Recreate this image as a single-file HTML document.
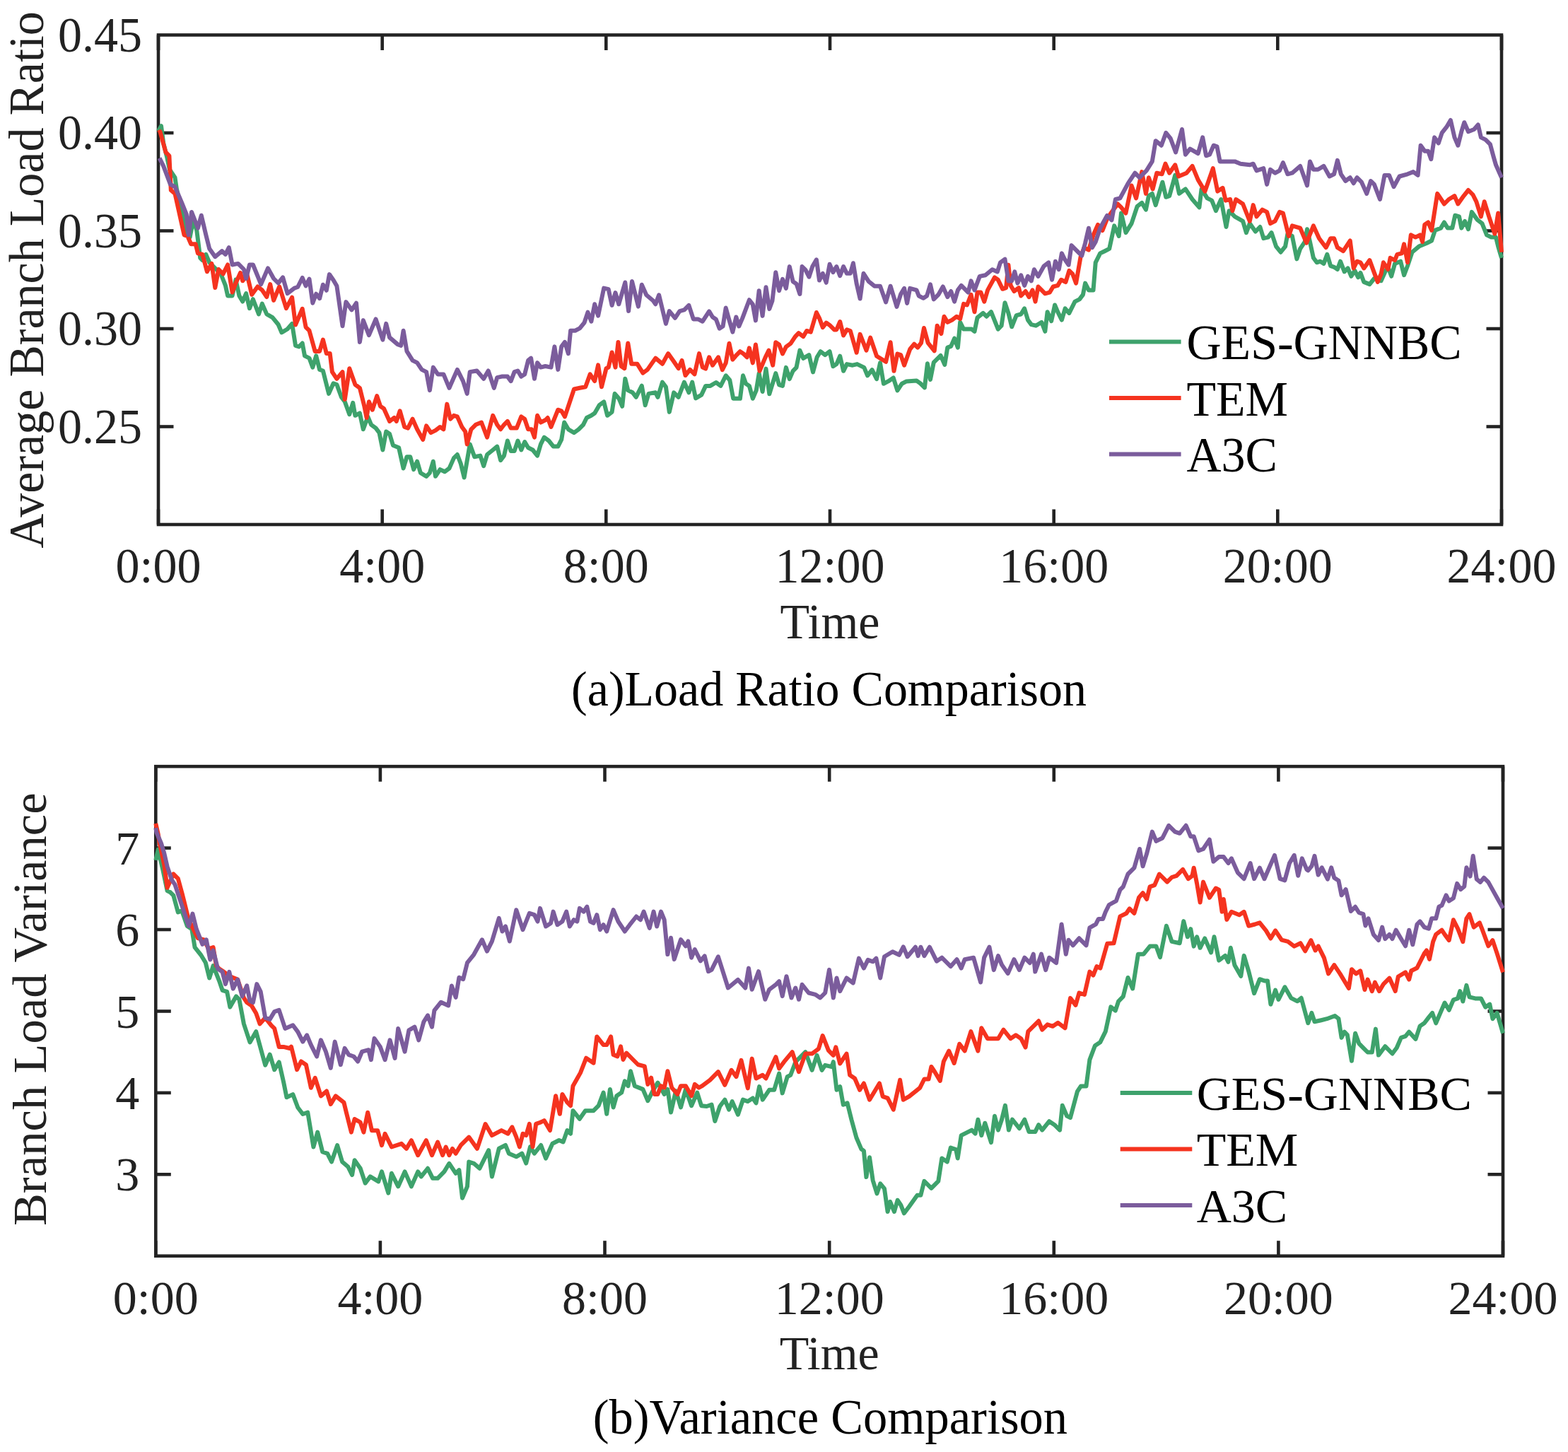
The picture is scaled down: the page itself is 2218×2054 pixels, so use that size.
<!DOCTYPE html>
<html><head><meta charset="utf-8"><title>Load Ratio and Variance Comparison</title>
<style>html,body{margin:0;padding:0;background:#fff}body{width:2218px;height:2054px;overflow:hidden}svg{display:block}
text{font-family:'Liberation Serif','Times New Roman',serif;font-size:68px;fill:#222222}</style></head>
<body><svg width="2218" height="2054" viewBox="0 0 2218 2054">
<rect width="2218" height="2054" fill="#fff"/>
<rect x="224.0" y="49.5" width="1900.0" height="692.5" fill="none" stroke="#232323" stroke-width="4.6"/>
<line x1="224.0" y1="742.0" x2="224.0" y2="720.5" stroke="#232323" stroke-width="4.6"/>
<line x1="224.0" y1="49.5" x2="224.0" y2="71.0" stroke="#232323" stroke-width="4.6"/>
<line x1="540.7" y1="742.0" x2="540.7" y2="720.5" stroke="#232323" stroke-width="4.6"/>
<line x1="540.7" y1="49.5" x2="540.7" y2="71.0" stroke="#232323" stroke-width="4.6"/>
<line x1="857.3" y1="742.0" x2="857.3" y2="720.5" stroke="#232323" stroke-width="4.6"/>
<line x1="857.3" y1="49.5" x2="857.3" y2="71.0" stroke="#232323" stroke-width="4.6"/>
<line x1="1174.0" y1="742.0" x2="1174.0" y2="720.5" stroke="#232323" stroke-width="4.6"/>
<line x1="1174.0" y1="49.5" x2="1174.0" y2="71.0" stroke="#232323" stroke-width="4.6"/>
<line x1="1490.7" y1="742.0" x2="1490.7" y2="720.5" stroke="#232323" stroke-width="4.6"/>
<line x1="1490.7" y1="49.5" x2="1490.7" y2="71.0" stroke="#232323" stroke-width="4.6"/>
<line x1="1807.3" y1="742.0" x2="1807.3" y2="720.5" stroke="#232323" stroke-width="4.6"/>
<line x1="1807.3" y1="49.5" x2="1807.3" y2="71.0" stroke="#232323" stroke-width="4.6"/>
<line x1="2124.0" y1="742.0" x2="2124.0" y2="720.5" stroke="#232323" stroke-width="4.6"/>
<line x1="2124.0" y1="49.5" x2="2124.0" y2="71.0" stroke="#232323" stroke-width="4.6"/>
<line x1="224.0" y1="188.0" x2="245.5" y2="188.0" stroke="#232323" stroke-width="4.6"/>
<line x1="2124.0" y1="188.0" x2="2102.5" y2="188.0" stroke="#232323" stroke-width="4.6"/>
<line x1="224.0" y1="326.5" x2="245.5" y2="326.5" stroke="#232323" stroke-width="4.6"/>
<line x1="2124.0" y1="326.5" x2="2102.5" y2="326.5" stroke="#232323" stroke-width="4.6"/>
<line x1="224.0" y1="465.0" x2="245.5" y2="465.0" stroke="#232323" stroke-width="4.6"/>
<line x1="2124.0" y1="465.0" x2="2102.5" y2="465.0" stroke="#232323" stroke-width="4.6"/>
<line x1="224.0" y1="603.5" x2="245.5" y2="603.5" stroke="#232323" stroke-width="4.6"/>
<line x1="2124.0" y1="603.5" x2="2102.5" y2="603.5" stroke="#232323" stroke-width="4.6"/>
<path d="M224.0 185.4 L228.0 178.1 L231.2 202.5 L236.1 221.9 L240.0 240.0 L247.5 251.2 L249.9 267.4 L257.2 299.9 L263.7 332.3 L268.6 335.6 L273.4 311.2 L278.3 325.8 L283.2 364.8 L286.4 368.1 L291.3 359.9 L296.2 371.3 L312.4 387.5 L318.9 403.8 L322.1 418.4 L328.6 418.4 L333.5 395.6 L338.4 418.4 L343.2 426.5 L348.1 415.1 L353.0 436.2 L357.9 423.2 L366.0 444.4 L370.8 429.7 L377.3 444.4 L385.5 449.2 L393.6 459.0 L398.4 470.3 L406.6 465.5 L413.1 457.9 L418.0 488.8 L422.9 490.4 L427.7 485.5 L431.0 503.4 L437.5 506.6 L442.3 519.6 L447.2 503.4 L452.1 522.9 L456.9 524.5 L465.1 556.9 L471.6 542.3 L476.4 544.0 L482.9 561.8 L487.8 568.3 L494.3 586.2 L499.2 569.9 L502.4 587.8 L508.9 584.5 L513.8 607.3 L520.3 589.4 L525.1 600.8 L531.6 605.6 L536.5 612.1 L541.4 636.5 L546.2 610.5 L551.1 613.8 L556.0 630.0 L564.1 633.2 L570.6 662.5 L575.5 646.2 L580.3 646.2 L585.2 664.1 L590.1 652.7 L594.9 669.0 L603.1 673.8 L607.9 669.0 L612.8 652.7 L616.0 673.8 L622.5 664.1 L629.0 667.3 L635.5 662.5 L642.0 647.9 L646.9 643.0 L651.8 656.0 L656.6 675.5 L664.7 628.4 L671.2 646.2 L679.4 644.6 L684.2 659.2 L689.1 643.0 L697.2 636.5 L703.2 631.6 L708.1 651.1 L713.0 644.6 L717.9 623.5 L722.7 638.1 L727.6 638.1 L732.5 623.5 L737.3 636.5 L742.2 625.1 L747.1 633.2 L753.6 636.5 L760.1 644.6 L764.9 628.4 L769.8 618.6 L776.3 623.5 L782.8 631.6 L789.3 631.6 L794.2 621.9 L798.2 597.5 L803.9 607.3 L812.0 612.1 L818.5 607.3 L825.0 600.8 L829.9 591.0 L836.4 587.8 L841.2 584.5 L847.7 573.2 L854.2 568.3 L859.1 587.8 L865.6 582.9 L869.6 556.9 L875.3 563.4 L880.2 574.8 L884.3 535.8 L888.3 552.1 L894.8 555.3 L899.7 561.8 L907.8 545.6 L912.7 573.2 L917.5 556.9 L927.3 555.3 L930.5 561.8 L937.0 540.7 L941.9 547.2 L946.8 582.9 L953.2 555.3 L959.7 561.8 L967.9 540.7 L974.4 555.3 L979.2 540.7 L984.1 563.4 L992.2 558.6 L998.2 545.9 L1004.7 545.9 L1012.9 541.0 L1019.4 545.9 L1026.7 531.3 L1032.3 537.8 L1037.2 563.8 L1046.9 563.8 L1051.0 531.3 L1055.1 542.7 L1059.9 545.9 L1064.8 563.8 L1069.7 552.4 L1073.7 528.1 L1078.6 554.0 L1083.5 521.6 L1088.3 557.3 L1097.3 528.1 L1102.1 544.3 L1107.0 545.9 L1111.9 519.9 L1116.8 536.2 L1121.6 524.8 L1126.5 519.9 L1131.4 495.6 L1136.2 506.9 L1144.4 502.1 L1150.0 526.4 L1155.7 505.3 L1160.6 497.2 L1167.1 502.1 L1173.6 497.2 L1178.4 518.3 L1183.3 515.1 L1188.2 503.7 L1193.1 524.8 L1197.9 515.1 L1206.0 516.7 L1212.5 515.1 L1222.3 519.9 L1227.1 531.3 L1233.6 523.2 L1240.1 536.2 L1245.0 513.4 L1249.9 542.7 L1256.4 539.4 L1263.7 534.5 L1269.4 552.4 L1275.8 542.7 L1282.3 539.4 L1296.5 538.6 L1301.4 541.9 L1307.9 548.4 L1311.9 514.3 L1316.0 537.0 L1320.8 512.7 L1330.6 502.9 L1336.3 515.9 L1340.3 491.6 L1345.2 489.9 L1350.1 478.6 L1354.9 491.6 L1358.2 455.8 L1363.1 465.6 L1374.4 465.6 L1378.5 468.8 L1382.5 449.4 L1390.6 442.9 L1395.5 447.7 L1402.0 441.2 L1411.8 465.6 L1416.6 460.7 L1421.5 428.2 L1426.4 442.9 L1431.2 462.3 L1437.7 446.1 L1444.2 444.5 L1449.1 436.4 L1454.0 452.6 L1458.8 459.1 L1465.3 460.7 L1473.4 455.8 L1478.3 468.8 L1481.6 441.2 L1487.2 454.2 L1492.1 431.5 L1496.2 441.2 L1501.9 452.6 L1506.7 436.4 L1512.4 442.9 L1520.5 426.6 L1527.0 423.4 L1531.9 416.9 L1535.1 400.6 L1540.0 410.4 L1546.5 410.4 L1549.7 371.4 L1556.2 358.4 L1562.7 355.2 L1569.2 351.9 L1576.2 319.4 L1582.7 334.0 L1586.0 301.5 L1592.5 329.1 L1600.6 316.1 L1608.7 291.8 L1615.2 286.9 L1620.9 296.6 L1624.9 277.1 L1629.8 273.9 L1634.7 290.1 L1644.4 257.7 L1649.3 278.8 L1654.2 277.1 L1662.3 247.9 L1668.0 273.9 L1676.9 267.4 L1686.6 282.0 L1696.4 293.4 L1699.6 267.4 L1707.7 280.4 L1714.2 283.6 L1719.9 298.2 L1727.2 282.0 L1734.5 321.0 L1738.6 298.2 L1746.7 306.4 L1758.1 312.9 L1762.9 329.1 L1767.8 316.1 L1775.9 327.5 L1782.4 321.0 L1787.3 337.2 L1793.8 335.6 L1798.6 329.1 L1805.1 348.6 L1811.6 356.7 L1818.1 348.6 L1821.4 330.7 L1827.9 334.0 L1834.4 366.4 L1839.2 351.8 L1845.7 342.1 L1849.0 324.2 L1853.0 342.1 L1857.9 364.8 L1862.7 371.3 L1867.6 369.7 L1872.5 372.9 L1877.3 359.9 L1882.2 376.2 L1887.1 377.8 L1891.9 381.0 L1896.0 369.7 L1901.7 384.3 L1906.6 379.4 L1911.4 390.8 L1916.3 382.7 L1921.2 392.4 L1924.4 385.9 L1929.3 398.9 L1937.4 402.1 L1943.9 394.0 L1953.6 397.3 L1960.1 382.7 L1963.4 377.8 L1968.2 390.8 L1973.1 372.9 L1981.2 369.7 L1986.1 389.2 L1991.0 376.2 L1997.5 356.7 L2007.2 348.6 L2018.6 343.7 L2025.1 340.5 L2029.9 325.8 L2038.1 322.6 L2042.9 314.5 L2047.8 322.6 L2054.3 322.6 L2058.3 304.7 L2064.0 306.4 L2067.3 322.6 L2072.1 312.9 L2077.0 324.2 L2081.9 299.9 L2090.0 311.2 L2096.5 316.1 L2103.0 332.3 L2109.5 335.6 L2116.0 335.6 L2119.2 348.6 L2124.0 364.8" fill="none" stroke="#3ea26c" stroke-width="6.0" stroke-linejoin="round"/>
<path d="M224.0 187.9 L226.4 186.2 L234.5 215.5 L239.4 220.3 L241.8 269.0 L247.5 273.9 L260.5 332.3 L265.3 334.0 L270.2 345.3 L276.7 345.3 L279.9 358.3 L286.4 359.9 L292.9 384.3 L299.4 372.9 L304.3 407.0 L309.2 381.0 L315.6 387.5 L322.1 374.5 L328.6 413.5 L333.5 400.5 L340.0 385.9 L343.2 397.3 L349.7 389.2 L356.2 416.8 L364.4 405.4 L370.8 410.3 L377.3 420.0 L382.2 402.1 L387.1 424.9 L395.2 405.4 L404.9 436.2 L413.1 420.6 L418.0 459.5 L427.7 436.8 L432.6 462.8 L437.5 467.7 L445.6 496.9 L452.1 496.9 L456.9 480.6 L461.8 500.1 L466.7 500.1 L469.9 526.1 L476.4 535.8 L484.5 526.1 L487.8 565.1 L494.3 521.2 L502.4 544.0 L508.9 548.8 L515.4 574.8 L518.6 591.0 L521.9 568.3 L526.8 579.7 L533.2 560.2 L538.1 574.8 L543.0 578.1 L551.1 595.9 L557.6 591.0 L560.8 595.9 L565.7 581.3 L572.2 604.0 L577.1 605.6 L583.6 592.7 L590.1 607.3 L598.2 621.9 L603.1 602.4 L609.5 612.1 L616.0 608.9 L622.5 604.0 L627.4 607.3 L632.3 571.6 L637.1 592.7 L642.0 587.8 L646.9 589.4 L653.4 604.0 L658.2 610.5 L660.7 628.4 L666.4 607.3 L672.9 600.8 L681.0 597.5 L689.1 618.6 L697.2 587.8 L703.2 600.8 L708.1 607.3 L713.0 600.8 L717.9 595.9 L722.7 605.6 L730.8 605.6 L737.3 589.4 L742.2 592.7 L747.1 607.3 L751.9 607.3 L756.0 618.6 L760.1 587.8 L764.9 597.5 L771.4 594.3 L774.7 591.0 L779.5 604.0 L789.3 579.7 L794.2 581.3 L799.0 589.4 L803.9 574.8 L812.0 550.5 L820.1 548.8 L828.2 547.2 L834.7 529.4 L841.2 539.1 L846.1 516.4 L851.0 547.2 L857.5 521.2 L860.7 519.6 L865.6 498.5 L870.5 519.6 L874.5 483.9 L878.6 518.0 L883.4 521.2 L888.3 485.5 L893.2 514.7 L901.3 514.7 L909.4 527.7 L915.9 522.9 L927.3 506.6 L937.0 514.7 L945.1 500.1 L953.2 511.5 L959.7 521.2 L964.6 509.9 L969.5 531.0 L976.0 522.9 L982.5 529.4 L989.0 500.1 L993.8 519.6 L998.2 521.6 L1003.1 505.3 L1008.0 516.7 L1016.1 505.3 L1021.8 523.2 L1026.7 513.4 L1031.5 485.8 L1036.4 508.6 L1040.5 503.7 L1046.9 497.2 L1051.8 500.5 L1056.7 505.3 L1059.9 492.3 L1064.8 513.4 L1068.9 487.5 L1074.5 524.8 L1082.7 505.3 L1087.5 495.6 L1093.2 516.7 L1097.3 484.2 L1102.1 487.5 L1107.0 500.5 L1111.9 490.7 L1118.4 485.8 L1124.9 476.1 L1129.7 471.2 L1136.2 476.1 L1141.1 468.0 L1146.8 469.6 L1154.9 442.0 L1159.0 450.1 L1163.8 463.1 L1168.7 456.6 L1173.6 459.9 L1180.1 466.4 L1183.3 466.4 L1188.2 455.0 L1193.1 474.5 L1197.9 466.4 L1202.8 468.0 L1211.7 498.8 L1216.6 472.9 L1225.5 495.6 L1231.2 477.7 L1240.1 503.7 L1253.1 511.8 L1259.6 484.2 L1264.5 524.8 L1269.4 500.5 L1274.2 502.1 L1279.1 516.7 L1287.2 494.0 L1293.2 486.7 L1298.1 491.6 L1303.0 485.1 L1307.0 464.0 L1312.7 485.1 L1321.7 496.4 L1325.7 460.7 L1331.4 472.1 L1335.5 447.7 L1340.3 455.8 L1346.8 452.6 L1353.3 447.7 L1358.2 451.0 L1363.1 429.9 L1367.9 431.5 L1373.6 416.9 L1378.5 441.2 L1382.5 413.6 L1387.4 413.6 L1392.3 426.6 L1397.1 410.4 L1406.9 392.5 L1411.8 395.8 L1418.2 408.8 L1423.1 407.1 L1426.4 374.7 L1429.6 403.9 L1434.5 412.0 L1441.0 407.1 L1444.2 418.5 L1450.7 412.0 L1455.6 420.1 L1460.5 410.4 L1464.5 426.6 L1468.6 405.5 L1473.4 410.4 L1478.3 415.3 L1484.8 413.6 L1489.7 405.5 L1496.2 403.9 L1501.0 395.8 L1507.5 399.0 L1512.4 382.8 L1517.3 387.7 L1522.1 400.6 L1528.6 363.3 L1533.5 350.3 L1540.0 353.6 L1546.5 332.5 L1553.0 317.9 L1559.5 326.0 L1566.0 309.7 L1572.5 300.0 L1581.1 288.5 L1586.0 293.4 L1592.5 301.5 L1600.6 262.5 L1607.1 280.4 L1615.2 243.1 L1620.9 273.9 L1624.9 251.2 L1630.6 267.4 L1636.3 244.7 L1643.6 246.3 L1648.5 231.7 L1654.2 244.7 L1662.3 233.3 L1667.1 249.5 L1678.5 244.7 L1686.6 234.9 L1694.7 254.4 L1704.5 270.6 L1715.8 238.2 L1722.3 270.6 L1729.6 265.8 L1733.7 283.6 L1740.2 282.0 L1743.4 298.2 L1748.3 282.0 L1758.1 288.5 L1767.8 312.9 L1772.7 290.1 L1777.5 306.4 L1785.6 296.6 L1792.1 299.9 L1797.0 316.1 L1803.5 312.9 L1810.0 299.9 L1814.9 301.5 L1823.0 334.0 L1827.9 319.4 L1839.2 322.6 L1848.1 343.7 L1857.9 319.4 L1866.0 337.2 L1875.7 350.2 L1882.2 337.2 L1887.1 337.2 L1891.9 350.2 L1900.1 355.1 L1909.8 340.5 L1914.7 379.4 L1919.5 369.7 L1924.4 371.3 L1929.3 379.4 L1937.4 368.1 L1943.9 385.9 L1948.8 398.9 L1953.6 387.5 L1956.9 371.3 L1963.4 381.0 L1966.6 364.8 L1973.1 368.1 L1976.4 359.9 L1982.9 358.3 L1986.1 345.3 L1991.0 371.3 L1995.8 332.3 L2002.3 335.6 L2008.8 332.3 L2012.1 342.1 L2015.3 317.7 L2020.2 314.5 L2025.1 325.8 L2033.2 273.9 L2042.9 288.5 L2049.4 282.0 L2057.5 277.1 L2062.4 288.5 L2070.5 277.1 L2077.0 269.0 L2083.5 275.5 L2088.4 285.3 L2094.9 306.4 L2099.7 285.3 L2106.2 306.4 L2114.4 330.7 L2119.2 301.5 L2124.0 356.7" fill="none" stroke="#f5331f" stroke-width="6.0" stroke-linejoin="round"/>
<path d="M225.6 223.6 L231.2 234.9 L241.0 260.9 L247.5 264.2 L257.2 286.9 L263.7 303.1 L266.9 332.3 L271.0 299.9 L279.9 322.6 L284.8 304.7 L291.3 332.3 L296.2 351.8 L304.3 363.2 L314.0 355.1 L318.9 359.9 L323.8 350.2 L328.6 374.5 L336.8 372.9 L344.9 381.0 L348.1 394.0 L353.0 374.5 L357.9 374.5 L369.2 402.1 L379.0 379.4 L387.1 394.0 L393.6 400.5 L400.1 392.4 L406.6 415.1 L416.4 407.6 L421.2 406.0 L427.7 393.0 L432.6 404.4 L437.5 394.6 L442.3 428.7 L447.2 415.7 L452.1 422.2 L456.9 402.7 L461.8 410.8 L465.9 388.1 L471.6 396.2 L476.4 404.4 L484.5 461.2 L489.4 427.1 L497.5 438.4 L504.0 428.7 L508.9 483.9 L513.8 453.1 L521.9 474.2 L531.6 451.4 L541.4 480.6 L546.2 457.9 L551.1 477.4 L562.5 487.1 L567.3 488.8 L570.6 467.7 L575.5 496.9 L583.6 509.9 L590.1 513.1 L596.6 522.9 L603.1 526.1 L607.9 552.1 L612.8 519.6 L619.3 529.4 L627.4 529.4 L635.5 548.8 L646.9 522.9 L655.0 539.1 L660.7 556.9 L664.7 526.1 L674.5 524.5 L684.2 535.8 L690.7 524.5 L698.8 548.8 L703.2 534.2 L709.7 532.6 L717.9 532.6 L722.7 539.1 L727.6 526.1 L732.5 524.5 L737.3 532.6 L742.2 529.4 L747.1 509.9 L751.1 506.6 L756.0 535.8 L760.1 513.1 L764.9 519.6 L771.4 518.0 L779.5 519.6 L784.4 490.4 L789.3 522.9 L794.2 490.4 L799.0 483.9 L803.9 500.1 L807.1 467.7 L813.6 467.7 L820.1 464.4 L826.6 456.3 L831.5 441.7 L836.4 454.7 L841.2 430.3 L846.1 446.6 L854.2 407.6 L860.7 409.2 L865.6 431.9 L870.5 414.1 L875.3 430.3 L884.3 399.5 L889.1 440.1 L894.0 397.9 L902.9 433.6 L907.8 402.7 L914.3 417.3 L924.0 425.5 L927.3 430.3 L932.1 417.3 L941.9 457.9 L946.8 440.1 L954.9 449.8 L961.4 440.1 L967.9 438.4 L974.4 431.9 L980.8 451.4 L987.3 451.4 L993.8 454.7 L1003.1 440.4 L1008.0 448.5 L1012.9 451.8 L1017.7 464.7 L1022.6 461.5 L1026.7 435.5 L1030.7 450.1 L1036.4 469.6 L1041.3 448.5 L1045.3 461.5 L1050.2 450.1 L1059.9 424.2 L1064.8 430.6 L1068.9 453.4 L1073.7 411.2 L1078.6 446.9 L1083.5 406.3 L1088.3 437.1 L1092.4 425.8 L1097.3 385.2 L1102.1 411.2 L1107.0 394.9 L1111.9 407.9 L1116.8 377.1 L1121.6 398.2 L1126.5 401.4 L1131.4 416.0 L1134.6 377.1 L1139.5 381.9 L1144.4 391.7 L1149.2 377.1 L1154.9 367.3 L1159.0 396.6 L1163.8 386.8 L1168.7 399.8 L1173.6 373.8 L1178.4 385.2 L1183.3 377.1 L1188.2 390.1 L1193.1 377.1 L1197.9 386.8 L1202.8 386.8 L1206.9 372.2 L1211.7 401.4 L1216.6 422.5 L1221.5 386.8 L1228.8 398.2 L1236.9 404.7 L1245.0 404.7 L1253.1 427.4 L1259.6 404.7 L1268.5 433.9 L1274.2 416.0 L1279.1 407.9 L1283.1 429.0 L1287.2 407.9 L1296.5 410.4 L1299.7 418.5 L1306.2 421.8 L1311.1 418.5 L1316.0 402.3 L1320.8 423.4 L1327.3 416.9 L1333.8 405.5 L1340.3 420.1 L1345.2 412.0 L1350.1 426.6 L1354.9 410.4 L1359.8 403.9 L1369.5 413.6 L1373.6 397.4 L1378.5 410.4 L1385.8 390.9 L1393.9 389.3 L1403.6 381.2 L1410.9 384.4 L1415.0 371.4 L1421.5 366.6 L1426.4 397.4 L1431.2 397.4 L1435.3 384.4 L1439.4 400.6 L1444.2 389.3 L1449.1 403.9 L1454.0 390.9 L1458.8 397.4 L1462.9 381.2 L1468.6 390.9 L1476.7 376.3 L1483.2 371.4 L1488.1 395.8 L1492.9 369.8 L1497.8 381.2 L1501.9 358.4 L1505.9 366.6 L1511.6 374.7 L1515.6 347.1 L1522.1 353.6 L1530.3 361.7 L1535.1 343.8 L1540.0 322.7 L1544.9 350.3 L1549.7 342.2 L1556.2 322.7 L1566.0 304.9 L1572.5 311.4 L1577.9 282.0 L1584.4 280.4 L1595.7 259.3 L1605.5 244.7 L1611.9 251.2 L1621.7 241.4 L1629.8 228.4 L1634.7 199.2 L1642.8 205.7 L1649.3 187.9 L1655.8 196.0 L1663.1 215.5 L1672.0 183.0 L1676.9 218.7 L1683.4 210.6 L1694.7 217.1 L1701.2 194.4 L1706.1 220.3 L1711.0 218.7 L1716.7 205.7 L1721.5 207.3 L1725.6 228.4 L1735.3 228.4 L1746.7 228.4 L1754.8 231.7 L1767.8 233.3 L1772.7 231.7 L1777.5 241.4 L1787.3 238.2 L1792.1 260.9 L1797.0 239.8 L1803.5 244.7 L1810.0 241.4 L1814.9 230.1 L1821.4 246.3 L1827.9 244.7 L1839.2 234.9 L1849.0 262.5 L1853.0 228.4 L1857.9 239.8 L1864.4 239.8 L1872.5 234.9 L1880.6 249.5 L1887.1 246.3 L1891.9 226.8 L1896.8 246.3 L1903.3 256.0 L1909.8 251.2 L1914.7 259.3 L1919.5 251.2 L1926.0 257.7 L1933.3 273.9 L1939.0 256.0 L1943.9 260.9 L1952.0 282.0 L1958.5 247.9 L1965.0 247.9 L1971.5 264.2 L1979.6 249.5 L1991.0 246.3 L1999.1 243.1 L2005.6 247.9 L2009.6 205.7 L2015.3 213.8 L2020.2 213.8 L2024.3 225.2 L2029.1 194.4 L2034.8 202.5 L2039.7 187.9 L2046.2 179.7 L2051.9 170.0 L2057.5 194.4 L2062.4 205.7 L2067.3 186.2 L2071.3 173.2 L2077.0 186.2 L2085.1 183.0 L2090.8 176.5 L2094.9 194.4 L2101.4 197.6 L2107.9 204.1 L2112.7 221.9 L2116.0 233.3 L2124.0 251.2" fill="none" stroke="#7b5c9c" stroke-width="6.0" stroke-linejoin="round"/>
<text transform="translate(201.0 49.5) scale(1 1.02)" text-anchor="end" dominant-baseline="central">0.45</text>
<text transform="translate(201.0 188.0) scale(1 1.02)" text-anchor="end" dominant-baseline="central">0.40</text>
<text transform="translate(201.0 326.5) scale(1 1.02)" text-anchor="end" dominant-baseline="central">0.35</text>
<text transform="translate(201.0 465.0) scale(1 1.02)" text-anchor="end" dominant-baseline="central">0.30</text>
<text transform="translate(201.0 603.5) scale(1 1.02)" text-anchor="end" dominant-baseline="central">0.25</text>
<text transform="translate(224.0 824.0) scale(1 1.02)" text-anchor="middle">0:00</text>
<text transform="translate(540.7 824.0) scale(1 1.02)" text-anchor="middle">4:00</text>
<text transform="translate(857.3 824.0) scale(1 1.02)" text-anchor="middle">8:00</text>
<text transform="translate(1174.0 824.0) scale(1 1.02)" text-anchor="middle">12:00</text>
<text transform="translate(1490.7 824.0) scale(1 1.02)" text-anchor="middle">16:00</text>
<text transform="translate(1807.3 824.0) scale(1 1.02)" text-anchor="middle">20:00</text>
<text transform="translate(2124.0 824.0) scale(1 1.02)" text-anchor="middle">24:00</text>
<text transform="translate(1174.0 902.8) scale(1 1.02)" text-anchor="middle">Time</text>
<text transform="translate(1172.5 997.8) scale(1 1.02)" text-anchor="middle" style="font-size:68px;fill:#000">(a)Load Ratio Comparison</text>
<text transform="translate(61.0 396.0) rotate(-90) scale(1 1.02)" text-anchor="middle" style="font-size:68px">Average Branch Load Ratio</text>
<line x1="1569.0" y1="483.5" x2="1670.6" y2="483.5" stroke="#3ea26c" stroke-width="6.0"/>
<text transform="translate(1678.5 508.3) scale(1 1.02)" style="fill:#000">GES-GNNBC</text>
<line x1="1569.0" y1="563.0" x2="1670.6" y2="563.0" stroke="#f5331f" stroke-width="6.0"/>
<text transform="translate(1678.5 587.8) scale(1 1.02)" style="fill:#000">TEM</text>
<line x1="1569.0" y1="642.5" x2="1670.6" y2="642.5" stroke="#7b5c9c" stroke-width="6.0"/>
<text transform="translate(1678.5 667.3) scale(1 1.02)" style="fill:#000">A3C</text>
<rect x="220.3" y="1084.2" width="1905.7" height="692.5" fill="none" stroke="#232323" stroke-width="4.6"/>
<line x1="220.3" y1="1776.7" x2="220.3" y2="1755.2" stroke="#232323" stroke-width="4.6"/>
<line x1="220.3" y1="1084.2" x2="220.3" y2="1105.7" stroke="#232323" stroke-width="4.6"/>
<line x1="537.9" y1="1776.7" x2="537.9" y2="1755.2" stroke="#232323" stroke-width="4.6"/>
<line x1="537.9" y1="1084.2" x2="537.9" y2="1105.7" stroke="#232323" stroke-width="4.6"/>
<line x1="855.5" y1="1776.7" x2="855.5" y2="1755.2" stroke="#232323" stroke-width="4.6"/>
<line x1="855.5" y1="1084.2" x2="855.5" y2="1105.7" stroke="#232323" stroke-width="4.6"/>
<line x1="1173.2" y1="1776.7" x2="1173.2" y2="1755.2" stroke="#232323" stroke-width="4.6"/>
<line x1="1173.2" y1="1084.2" x2="1173.2" y2="1105.7" stroke="#232323" stroke-width="4.6"/>
<line x1="1490.8" y1="1776.7" x2="1490.8" y2="1755.2" stroke="#232323" stroke-width="4.6"/>
<line x1="1490.8" y1="1084.2" x2="1490.8" y2="1105.7" stroke="#232323" stroke-width="4.6"/>
<line x1="1808.4" y1="1776.7" x2="1808.4" y2="1755.2" stroke="#232323" stroke-width="4.6"/>
<line x1="1808.4" y1="1084.2" x2="1808.4" y2="1105.7" stroke="#232323" stroke-width="4.6"/>
<line x1="2126.0" y1="1776.7" x2="2126.0" y2="1755.2" stroke="#232323" stroke-width="4.6"/>
<line x1="2126.0" y1="1084.2" x2="2126.0" y2="1105.7" stroke="#232323" stroke-width="4.6"/>
<line x1="220.3" y1="1199.6" x2="241.8" y2="1199.6" stroke="#232323" stroke-width="4.6"/>
<line x1="2126.0" y1="1199.6" x2="2104.5" y2="1199.6" stroke="#232323" stroke-width="4.6"/>
<line x1="220.3" y1="1315.0" x2="241.8" y2="1315.0" stroke="#232323" stroke-width="4.6"/>
<line x1="2126.0" y1="1315.0" x2="2104.5" y2="1315.0" stroke="#232323" stroke-width="4.6"/>
<line x1="220.3" y1="1430.5" x2="241.8" y2="1430.5" stroke="#232323" stroke-width="4.6"/>
<line x1="2126.0" y1="1430.5" x2="2104.5" y2="1430.5" stroke="#232323" stroke-width="4.6"/>
<line x1="220.3" y1="1545.9" x2="241.8" y2="1545.9" stroke="#232323" stroke-width="4.6"/>
<line x1="2126.0" y1="1545.9" x2="2104.5" y2="1545.9" stroke="#232323" stroke-width="4.6"/>
<line x1="220.3" y1="1661.3" x2="241.8" y2="1661.3" stroke="#232323" stroke-width="4.6"/>
<line x1="2126.0" y1="1661.3" x2="2104.5" y2="1661.3" stroke="#232323" stroke-width="4.6"/>
<path d="M220.3 1216.8 L223.7 1201.6 L230.2 1229.8 L236.6 1260.1 L241.0 1262.3 L245.3 1266.6 L251.8 1290.4 L257.2 1288.2 L264.8 1309.9 L271.3 1314.2 L275.6 1340.2 L284.3 1351.0 L290.8 1361.8 L296.2 1383.5 L301.6 1366.1 L310.2 1387.8 L314.6 1400.8 L321.1 1402.9 L325.4 1424.6 L334.0 1409.4 L338.4 1413.8 L344.9 1448.4 L353.5 1474.4 L362.2 1459.2 L368.7 1483.0 L375.2 1506.8 L381.7 1491.7 L388.2 1513.3 L394.7 1502.5 L401.1 1530.6 L405.5 1552.3 L414.3 1548.1 L421.3 1566.7 L428.3 1576.0 L435.3 1573.7 L443.4 1622.5 L449.2 1601.6 L456.2 1629.5 L463.2 1631.8 L469.0 1643.5 L477.1 1620.2 L484.1 1643.5 L492.3 1650.5 L498.1 1662.1 L501.6 1641.2 L509.7 1652.8 L516.7 1673.7 L523.7 1664.4 L535.3 1671.4 L540.0 1657.4 L549.3 1687.7 L553.9 1659.8 L563.2 1678.4 L572.6 1657.4 L581.9 1678.4 L591.2 1657.4 L595.8 1664.4 L605.1 1652.8 L612.1 1666.8 L619.1 1666.8 L628.4 1657.4 L635.4 1645.8 L644.7 1659.8 L649.4 1655.1 L654.0 1694.7 L661.0 1678.4 L663.3 1643.5 L670.3 1645.8 L678.4 1652.8 L691.2 1627.2 L695.9 1664.4 L705.8 1624.7 L715.1 1620.0 L719.8 1631.7 L730.3 1636.3 L738.4 1631.7 L744.2 1645.6 L750.0 1622.4 L755.9 1631.7 L765.2 1620.0 L772.1 1638.6 L781.5 1617.7 L790.8 1613.0 L796.6 1615.4 L802.4 1599.1 L807.1 1603.7 L810.5 1571.2 L819.9 1582.8 L828.0 1571.2 L839.6 1571.2 L846.6 1564.2 L853.6 1545.6 L858.2 1575.8 L862.9 1540.9 L867.6 1566.5 L872.2 1550.2 L879.2 1545.6 L883.8 1529.3 L888.5 1536.2 L892.0 1515.3 L897.8 1536.2 L909.4 1540.9 L916.4 1557.2 L923.4 1543.2 L930.4 1531.6 L939.7 1547.9 L944.4 1540.9 L949.0 1573.5 L956.0 1543.2 L963.0 1566.5 L970.0 1540.9 L978.1 1564.2 L986.2 1545.6 L992.1 1564.2 L999.7 1565.0 L1006.6 1562.7 L1011.3 1586.0 L1018.3 1565.0 L1025.3 1555.7 L1031.1 1569.7 L1035.7 1558.1 L1043.9 1576.7 L1050.9 1555.7 L1057.8 1558.1 L1064.8 1553.4 L1069.5 1560.4 L1074.1 1537.1 L1078.8 1555.7 L1088.1 1541.8 L1095.1 1541.8 L1102.1 1518.5 L1106.7 1546.4 L1113.7 1523.2 L1118.3 1520.8 L1125.3 1502.2 L1139.3 1488.2 L1148.6 1513.8 L1155.6 1492.9 L1162.6 1513.8 L1167.2 1506.9 L1176.5 1509.2 L1178.8 1502.2 L1183.5 1541.8 L1188.2 1537.1 L1192.8 1562.7 L1198.6 1560.4 L1204.4 1583.7 L1211.4 1609.3 L1218.4 1625.6 L1221.9 1627.9 L1225.4 1665.1 L1230.0 1637.2 L1234.7 1669.8 L1240.5 1688.4 L1245.2 1674.4 L1251.0 1681.4 L1255.6 1714.0 L1259.1 1700.0 L1265.0 1714.0 L1269.6 1697.7 L1274.3 1704.7 L1278.9 1716.3 L1285.9 1707.0 L1297.5 1690.8 L1302.4 1690.8 L1307.4 1670.8 L1317.4 1680.8 L1327.3 1670.8 L1332.3 1638.5 L1339.8 1643.5 L1344.8 1623.5 L1352.2 1626.0 L1354.7 1638.5 L1359.7 1606.1 L1364.7 1603.6 L1374.6 1598.6 L1379.6 1603.6 L1383.4 1583.7 L1388.3 1606.1 L1393.3 1588.7 L1402.0 1616.1 L1407.0 1578.7 L1412.0 1598.6 L1417.0 1583.7 L1421.9 1563.8 L1426.9 1598.6 L1431.9 1583.7 L1441.9 1596.2 L1449.3 1583.7 L1455.5 1601.1 L1464.3 1601.1 L1469.2 1591.2 L1474.2 1598.6 L1484.2 1586.2 L1491.6 1591.2 L1499.1 1598.6 L1502.8 1563.8 L1509.1 1578.7 L1514.0 1581.2 L1524.0 1543.9 L1529.0 1536.4 L1536.5 1536.4 L1541.4 1499.1 L1548.9 1479.2 L1556.4 1474.2 L1563.8 1459.2 L1571.3 1424.4 L1577.8 1429.6 L1582.2 1416.3 L1588.8 1409.6 L1595.5 1383.0 L1602.2 1398.5 L1609.9 1349.7 L1617.7 1349.7 L1626.6 1338.6 L1635.4 1338.6 L1641.0 1354.1 L1649.9 1309.8 L1657.6 1331.9 L1668.7 1334.2 L1674.3 1303.1 L1679.8 1325.3 L1684.3 1314.2 L1688.7 1338.6 L1693.1 1325.3 L1697.6 1340.8 L1704.2 1327.5 L1713.1 1347.5 L1717.5 1325.3 L1724.2 1358.6 L1733.1 1351.9 L1737.5 1360.8 L1740.8 1340.8 L1746.4 1365.2 L1755.3 1380.8 L1759.7 1351.9 L1766.3 1374.1 L1774.1 1405.2 L1781.9 1385.2 L1788.5 1387.4 L1793.0 1387.4 L1797.4 1420.7 L1804.1 1400.7 L1808.5 1414.0 L1817.4 1396.3 L1826.3 1411.8 L1835.1 1416.3 L1840.7 1411.8 L1850.3 1447.3 L1855.4 1432.9 L1859.5 1445.3 L1868.8 1443.2 L1877.0 1441.2 L1888.3 1437.0 L1893.5 1441.2 L1897.6 1467.9 L1901.7 1459.7 L1905.8 1463.8 L1912.0 1500.8 L1917.1 1461.7 L1922.3 1476.1 L1928.4 1482.3 L1934.6 1488.5 L1940.8 1488.5 L1945.9 1455.6 L1950.0 1492.6 L1959.3 1480.2 L1969.5 1490.5 L1975.7 1482.3 L1981.9 1467.9 L1988.1 1465.8 L1993.2 1459.7 L2002.5 1469.9 L2008.6 1451.4 L2014.8 1447.3 L2021.0 1439.1 L2026.1 1432.9 L2031.2 1447.3 L2037.4 1432.9 L2043.6 1418.5 L2049.7 1428.8 L2055.9 1414.4 L2062.1 1412.4 L2065.2 1402.1 L2069.3 1416.5 L2074.4 1393.9 L2078.5 1410.3 L2086.8 1412.4 L2095.0 1412.4 L2101.2 1424.7 L2107.3 1420.6 L2111.4 1441.2 L2117.6 1432.9 L2126.0 1461.7" fill="none" stroke="#3ea26c" stroke-width="6.0" stroke-linejoin="round"/>
<path d="M220.3 1164.8 L223.7 1180.0 L225.8 1193.0 L232.3 1223.3 L236.6 1255.8 L245.3 1236.3 L251.8 1242.8 L258.3 1266.6 L266.9 1301.2 L273.4 1314.2 L279.9 1327.2 L288.6 1329.4 L295.1 1342.3 L301.6 1340.2 L305.9 1366.1 L310.2 1370.5 L316.7 1374.8 L325.4 1381.3 L336.2 1385.6 L344.9 1411.6 L349.2 1418.1 L355.7 1422.4 L362.2 1433.2 L367.6 1448.4 L375.2 1439.7 L383.8 1450.6 L388.2 1454.9 L394.7 1480.9 L401.1 1480.9 L409.8 1483.0 L412.0 1480.6 L420.1 1513.2 L425.9 1501.5 L432.9 1506.2 L439.9 1538.8 L445.7 1524.8 L453.9 1550.4 L462.0 1543.4 L467.8 1562.0 L474.8 1550.4 L486.5 1559.7 L489.9 1573.7 L496.9 1601.6 L501.6 1583.0 L509.7 1587.6 L514.4 1601.6 L520.2 1573.7 L526.0 1599.3 L534.2 1599.3 L540.0 1620.2 L544.6 1603.9 L553.9 1622.5 L567.9 1617.9 L574.9 1624.9 L581.9 1613.2 L591.2 1634.2 L602.8 1613.2 L611.0 1634.2 L619.1 1615.6 L626.1 1634.2 L630.7 1622.5 L635.4 1634.2 L640.0 1624.9 L644.7 1631.8 L651.7 1620.2 L663.3 1608.6 L675.0 1624.9 L686.6 1590.0 L695.9 1606.2 L709.3 1599.1 L718.6 1603.7 L724.4 1594.4 L730.3 1608.4 L734.9 1622.4 L739.6 1603.7 L744.2 1606.1 L748.9 1589.8 L753.5 1622.4 L758.2 1589.8 L765.2 1587.4 L769.8 1585.1 L778.0 1599.1 L786.1 1550.2 L791.9 1575.8 L795.4 1547.9 L802.4 1559.5 L807.1 1564.2 L810.5 1536.2 L821.0 1517.6 L829.2 1496.7 L839.6 1503.7 L844.3 1466.4 L853.6 1478.1 L858.2 1478.1 L864.1 1466.4 L867.6 1492.0 L873.4 1494.4 L878.0 1480.4 L881.5 1499.0 L886.2 1489.7 L895.5 1499.0 L902.5 1506.0 L911.8 1508.3 L916.4 1533.9 L921.1 1524.6 L925.7 1547.9 L930.4 1547.9 L935.0 1536.2 L939.7 1538.6 L944.4 1515.3 L950.2 1538.6 L958.3 1547.9 L963.0 1536.2 L970.0 1536.2 L978.1 1550.2 L982.8 1533.9 L988.6 1538.6 L993.2 1536.2 L1004.3 1527.8 L1015.9 1516.2 L1025.3 1534.8 L1034.6 1513.8 L1041.5 1523.2 L1048.5 1499.9 L1057.8 1539.4 L1063.7 1497.6 L1069.5 1525.5 L1078.8 1520.8 L1083.4 1525.5 L1097.4 1495.2 L1102.1 1511.5 L1109.0 1502.2 L1120.7 1488.2 L1130.0 1516.2 L1139.3 1490.6 L1148.6 1490.6 L1157.9 1483.6 L1163.7 1465.0 L1171.9 1485.9 L1178.8 1492.9 L1182.3 1481.3 L1188.2 1504.5 L1197.5 1490.6 L1202.1 1520.8 L1209.1 1525.5 L1216.1 1541.8 L1221.9 1532.5 L1230.0 1555.7 L1244.0 1532.5 L1248.7 1551.1 L1255.6 1553.4 L1263.8 1569.7 L1273.1 1527.8 L1277.8 1555.7 L1285.9 1551.1 L1295.0 1543.9 L1301.2 1538.9 L1307.4 1526.5 L1313.6 1526.5 L1317.4 1509.0 L1322.4 1516.5 L1329.8 1528.9 L1334.8 1501.6 L1342.3 1486.6 L1349.7 1504.0 L1357.2 1476.7 L1364.7 1486.6 L1373.4 1459.2 L1383.4 1486.6 L1388.3 1454.3 L1397.0 1469.2 L1404.5 1469.2 L1412.0 1469.2 L1419.4 1456.7 L1429.4 1469.2 L1436.9 1464.2 L1444.3 1469.2 L1450.6 1481.6 L1454.3 1459.2 L1469.2 1444.3 L1474.2 1456.7 L1481.7 1449.3 L1489.2 1451.8 L1496.6 1446.8 L1506.6 1454.3 L1514.0 1411.9 L1521.5 1421.9 L1526.5 1404.5 L1534.0 1407.0 L1541.4 1374.6 L1546.4 1379.6 L1551.4 1367.1 L1556.4 1369.6 L1566.3 1334.8 L1575.5 1334.2 L1584.4 1296.4 L1593.3 1292.0 L1597.7 1285.3 L1604.4 1292.0 L1611.0 1269.8 L1616.6 1263.2 L1622.1 1272.0 L1626.6 1254.3 L1633.2 1252.1 L1639.9 1236.5 L1651.0 1247.6 L1657.6 1241.0 L1664.3 1238.8 L1673.2 1229.9 L1680.9 1243.2 L1686.5 1238.8 L1688.7 1227.7 L1693.1 1249.8 L1697.6 1276.5 L1702.0 1247.6 L1710.9 1269.8 L1719.8 1256.5 L1724.2 1258.7 L1728.6 1289.8 L1730.8 1272.0 L1735.3 1300.9 L1741.9 1289.8 L1753.0 1294.2 L1759.7 1289.8 L1766.3 1309.8 L1775.2 1307.5 L1781.9 1305.3 L1790.8 1316.4 L1797.4 1327.5 L1804.1 1316.4 L1812.9 1329.7 L1821.8 1331.9 L1830.7 1338.6 L1839.6 1334.2 L1846.2 1345.3 L1854.4 1330.1 L1860.6 1344.5 L1864.7 1338.3 L1872.9 1354.8 L1879.1 1377.4 L1887.3 1365.1 L1895.5 1377.4 L1907.9 1398.0 L1912.0 1371.2 L1918.1 1377.4 L1924.3 1373.3 L1930.5 1400.0 L1934.6 1385.6 L1940.8 1402.1 L1944.9 1389.7 L1951.0 1402.1 L1957.2 1391.8 L1965.4 1383.6 L1973.7 1402.1 L1977.8 1381.5 L1988.1 1375.4 L1993.2 1385.6 L1996.3 1373.3 L2004.5 1369.2 L2014.8 1348.6 L2017.9 1344.5 L2022.0 1356.8 L2027.1 1332.2 L2031.2 1321.9 L2039.5 1315.7 L2043.6 1321.9 L2049.7 1330.1 L2055.9 1301.3 L2062.1 1313.7 L2069.3 1332.2 L2074.4 1299.3 L2078.5 1293.1 L2084.7 1311.6 L2092.9 1305.4 L2097.0 1315.7 L2105.3 1338.3 L2111.4 1330.1 L2117.6 1348.6 L2126.0 1375.4" fill="none" stroke="#f5331f" stroke-width="6.0" stroke-linejoin="round"/>
<path d="M220.3 1171.3 L221.5 1177.8 L228.0 1193.0 L232.3 1207.1 L236.6 1225.9 L243.1 1244.9 L247.5 1251.4 L258.3 1283.9 L266.9 1309.9 L272.4 1292.6 L277.8 1314.2 L286.4 1335.8 L291.8 1329.4 L297.3 1357.5 L301.6 1344.5 L308.1 1370.5 L314.6 1374.8 L318.9 1392.1 L324.3 1374.8 L329.7 1398.6 L336.2 1385.6 L342.7 1409.4 L349.2 1394.3 L353.5 1415.9 L357.9 1418.1 L363.3 1392.1 L368.7 1402.9 L375.2 1439.7 L381.7 1441.9 L388.2 1431.1 L394.7 1428.9 L403.3 1454.9 L414.3 1450.3 L421.3 1459.6 L428.3 1473.6 L434.1 1464.3 L439.9 1478.2 L448.1 1494.5 L453.9 1471.3 L460.9 1487.6 L467.8 1510.8 L473.7 1473.6 L481.8 1506.2 L487.6 1482.9 L493.4 1492.2 L500.4 1494.5 L506.2 1501.5 L512.1 1487.6 L521.4 1485.2 L524.9 1499.2 L529.5 1468.9 L537.7 1480.6 L544.6 1499.2 L551.6 1471.3 L558.6 1496.9 L563.2 1455.0 L572.6 1487.6 L578.4 1457.3 L586.5 1452.7 L592.3 1471.3 L599.3 1445.7 L605.1 1436.4 L611.0 1452.7 L614.4 1429.4 L623.8 1417.7 L634.2 1422.4 L638.9 1394.5 L644.7 1410.8 L649.4 1382.8 L655.2 1385.2 L661.0 1361.9 L670.3 1350.3 L681.9 1329.3 L688.9 1345.6 L695.9 1331.6 L705.8 1298.9 L710.5 1317.5 L715.1 1310.5 L720.9 1331.5 L730.3 1287.2 L739.6 1315.2 L748.9 1291.9 L755.9 1294.2 L760.5 1303.5 L764.0 1284.9 L772.1 1310.5 L779.1 1305.9 L782.6 1289.6 L788.4 1308.2 L795.4 1303.5 L801.2 1289.6 L805.9 1310.5 L811.7 1301.2 L816.4 1303.5 L819.9 1284.9 L825.7 1289.6 L830.3 1282.6 L835.0 1303.5 L839.6 1305.9 L844.3 1294.2 L848.9 1315.2 L853.6 1308.2 L858.2 1317.5 L867.6 1287.2 L874.5 1303.5 L883.8 1317.5 L890.8 1308.2 L900.1 1296.5 L906.0 1301.2 L910.6 1289.6 L918.8 1312.8 L924.6 1289.6 L929.2 1310.5 L935.0 1289.6 L939.7 1301.2 L944.4 1350.1 L949.0 1326.8 L953.7 1357.1 L963.0 1329.1 L970.0 1338.4 L973.4 1331.5 L978.1 1354.7 L982.8 1343.1 L990.9 1359.4 L996.7 1352.4 L1002.0 1374.2 L1006.6 1371.9 L1015.9 1353.3 L1029.9 1397.5 L1043.9 1385.9 L1054.3 1397.5 L1059.0 1369.6 L1063.7 1399.8 L1073.0 1374.2 L1082.3 1413.8 L1088.1 1399.8 L1097.4 1392.8 L1102.1 1388.2 L1106.7 1409.1 L1112.5 1381.2 L1119.5 1411.5 L1125.3 1397.5 L1130.0 1413.8 L1134.6 1392.8 L1143.9 1404.5 L1153.2 1406.8 L1160.2 1411.5 L1167.2 1404.5 L1173.0 1371.9 L1178.8 1411.5 L1183.5 1383.5 L1188.2 1402.1 L1197.5 1383.5 L1206.8 1390.5 L1214.9 1355.6 L1221.9 1369.6 L1227.7 1357.9 L1234.7 1360.3 L1239.4 1355.6 L1245.2 1383.5 L1251.0 1353.3 L1262.6 1346.3 L1271.9 1350.9 L1277.8 1339.3 L1283.6 1353.3 L1295.0 1339.7 L1298.7 1352.2 L1302.4 1339.7 L1307.4 1352.2 L1314.9 1339.7 L1324.9 1359.7 L1332.3 1354.7 L1344.8 1367.1 L1353.5 1357.2 L1359.7 1369.6 L1364.7 1357.2 L1377.1 1354.7 L1387.1 1389.5 L1392.1 1354.7 L1399.5 1339.7 L1405.8 1372.1 L1412.0 1352.2 L1417.0 1364.6 L1425.7 1377.1 L1434.4 1357.2 L1441.9 1372.1 L1449.3 1354.7 L1456.8 1362.2 L1461.8 1349.7 L1464.3 1374.6 L1473.0 1349.7 L1479.2 1372.1 L1484.2 1354.7 L1494.1 1362.2 L1501.6 1307.4 L1507.8 1349.7 L1511.6 1329.8 L1517.8 1337.3 L1526.5 1327.3 L1536.5 1337.3 L1541.4 1312.4 L1550.1 1307.4 L1553.9 1299.9 L1560.1 1299.9 L1563.8 1290.0 L1568.8 1280.0 L1578.9 1274.3 L1584.4 1258.7 L1588.8 1254.3 L1595.5 1236.5 L1604.4 1227.7 L1612.1 1201.0 L1616.6 1225.4 L1622.1 1207.7 L1629.9 1176.6 L1635.4 1189.9 L1644.3 1185.5 L1653.2 1167.8 L1662.1 1176.6 L1668.7 1178.8 L1677.6 1167.8 L1684.3 1183.3 L1688.7 1183.3 L1695.3 1203.3 L1702.0 1201.0 L1710.9 1187.7 L1716.4 1218.8 L1724.2 1212.1 L1730.8 1212.1 L1737.5 1221.0 L1741.9 1214.3 L1750.8 1234.3 L1759.7 1243.2 L1768.6 1221.0 L1774.1 1243.2 L1781.9 1227.7 L1788.5 1243.2 L1795.2 1227.7 L1803.0 1209.9 L1810.7 1243.2 L1817.4 1245.4 L1824.0 1221.0 L1830.7 1209.9 L1836.2 1238.8 L1841.8 1214.3 L1848.4 1229.9 L1850.3 1231.4 L1855.4 1225.2 L1859.5 1210.8 L1864.7 1237.6 L1869.8 1227.3 L1878.0 1243.7 L1883.2 1227.3 L1887.3 1241.7 L1893.5 1245.8 L1897.6 1266.4 L1903.7 1258.1 L1910.9 1289.0 L1917.1 1282.8 L1922.3 1291.0 L1928.4 1293.1 L1931.5 1309.5 L1935.6 1299.3 L1942.8 1321.9 L1950.0 1330.1 L1955.2 1311.6 L1959.3 1328.1 L1965.4 1321.9 L1969.5 1328.1 L1974.7 1315.7 L1981.9 1328.1 L1988.1 1338.3 L1993.2 1315.7 L1998.3 1336.3 L2004.5 1307.5 L2008.6 1303.4 L2014.8 1311.6 L2021.0 1313.7 L2025.1 1299.3 L2031.2 1299.3 L2035.4 1282.8 L2039.5 1280.8 L2045.6 1266.4 L2049.7 1274.6 L2055.9 1270.5 L2061.1 1249.9 L2066.2 1258.1 L2071.3 1254.0 L2074.4 1227.3 L2079.6 1239.6 L2083.7 1210.8 L2088.8 1243.7 L2094.0 1247.9 L2099.1 1241.7 L2105.3 1247.9 L2115.6 1266.4 L2126.0 1284.9" fill="none" stroke="#7b5c9c" stroke-width="6.0" stroke-linejoin="round"/>
<text transform="translate(197.3 1199.6) scale(1 1.0)" text-anchor="end" dominant-baseline="central">7</text>
<text transform="translate(197.3 1315.0) scale(1 1.0)" text-anchor="end" dominant-baseline="central">6</text>
<text transform="translate(197.3 1430.5) scale(1 1.0)" text-anchor="end" dominant-baseline="central">5</text>
<text transform="translate(197.3 1545.9) scale(1 1.0)" text-anchor="end" dominant-baseline="central">4</text>
<text transform="translate(197.3 1661.3) scale(1 1.0)" text-anchor="end" dominant-baseline="central">3</text>
<text transform="translate(220.3 1858.9) scale(1 1.0)" text-anchor="middle">0:00</text>
<text transform="translate(537.9 1858.9) scale(1 1.0)" text-anchor="middle">4:00</text>
<text transform="translate(855.5 1858.9) scale(1 1.0)" text-anchor="middle">8:00</text>
<text transform="translate(1173.2 1858.9) scale(1 1.0)" text-anchor="middle">12:00</text>
<text transform="translate(1490.8 1858.9) scale(1 1.0)" text-anchor="middle">16:00</text>
<text transform="translate(1808.4 1858.9) scale(1 1.0)" text-anchor="middle">20:00</text>
<text transform="translate(2126.0 1858.9) scale(1 1.0)" text-anchor="middle">24:00</text>
<text transform="translate(1173.2 1937.2) scale(1 1.0)" text-anchor="middle">Time</text>
<text transform="translate(1174.4 2028.2) scale(1 1.02)" text-anchor="middle" style="font-size:68.5px;fill:#000">(b)Variance Comparison</text>
<text transform="translate(65.0 1427.6) rotate(-90) scale(1 1.0)" text-anchor="middle" style="font-size:68.7px">Branch Load Variance</text>
<line x1="1584.7" y1="1545.9" x2="1686.3" y2="1545.9" stroke="#3ea26c" stroke-width="6.0"/>
<text transform="translate(1692.7 1569.9) scale(1 1.0)" style="fill:#000">GES-GNNBC</text>
<line x1="1584.7" y1="1625.4" x2="1686.3" y2="1625.4" stroke="#f5331f" stroke-width="6.0"/>
<text transform="translate(1692.7 1649.4) scale(1 1.0)" style="fill:#000">TEM</text>
<line x1="1584.7" y1="1704.9" x2="1686.3" y2="1704.9" stroke="#7b5c9c" stroke-width="6.0"/>
<text transform="translate(1692.7 1728.9) scale(1 1.0)" style="fill:#000">A3C</text>
</svg></body></html>
